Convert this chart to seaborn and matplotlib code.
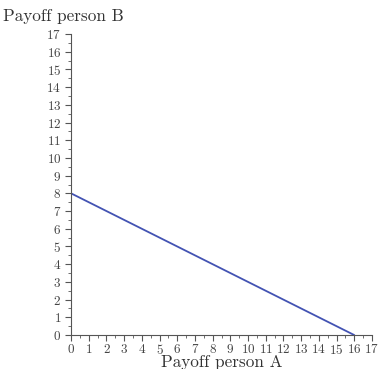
import matplotlib
matplotlib.use('Agg')
import matplotlib.pyplot as plt
import matplotlib.ticker as ticker
import seaborn as sns
import pandas as pd

# Budget line data
payoff_a = [0, 16]
payoff_b = [8, 0]
ticks = list(range(0, 18))

sns.set_style('white')
plt.rcParams['font.family'] = ['cmr10', 'DejaVu Serif']
plt.rcParams['axes.formatter.use_mathtext'] = True

fig = plt.figure(figsize=(3.78, 3.69), dpi=100)
ax = fig.add_axes([0.188, 0.092, 0.796, 0.816])

df = pd.DataFrame({'A': payoff_a, 'B': payoff_b})
sns.lineplot(data=df, x='A', y='B', ax=ax, color='#4353b3', linewidth=1.3)

ax.set_xlim(0, 17)
ax.set_ylim(0, 17)
ax.set_xticks(ticks)
ax.set_yticks(ticks)
ax.xaxis.set_minor_locator(ticker.MultipleLocator(0.5))
ax.yaxis.set_minor_locator(ticker.MultipleLocator(0.5))
ax.tick_params(which='major', length=4, width=0.8, color='#555555', labelsize=9.5, labelcolor='#444444')
ax.tick_params(which='minor', length=2, width=0.6, color='#555555')
ax.tick_params(axis='x', bottom=True, which='both', pad=1.5)
ax.tick_params(axis='y', left=True, which='both', pad=3)

for side in ['top', 'right']:
    ax.spines[side].set_visible(False)
for side in ['left', 'bottom']:
    ax.spines[side].set_color('#555555')
    ax.spines[side].set_linewidth(0.8)

ax.set_xlabel('Payoff person A', fontsize=12.3, color='#333333')
ax.xaxis.set_label_coords(0.5, -0.066)
ax.set_ylabel('')
fig.text(0.008, 0.955, 'Payoff person B', fontsize=12.3, color='#333333', va='center', ha='left')

plt.savefig('out.png', dpi=100)
